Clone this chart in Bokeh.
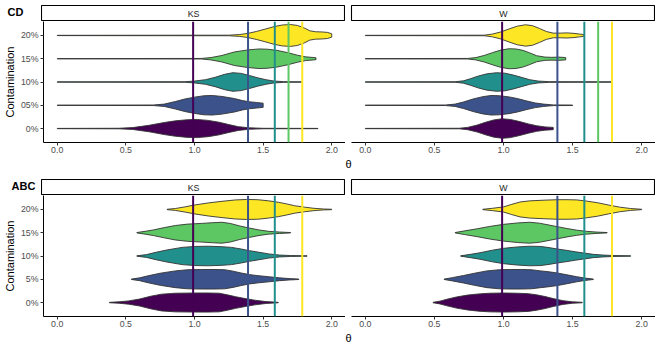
from bokeh.plotting import figure
from bokeh.layouts import column, row
from bokeh.models import Range1d, Span, FixedTicker, NumeralTickFormatter, Label
from bokeh.embed import file_html
from bokeh.resources import INLINE

FONT = "Liberation Sans"

# ---------------- data ----------------
row_labels = ["CD", "ABC"]
facet_labels = ["KS", "W"]
levels_cd = ["0%", "05%", "10%", "15%", "20%"]
levels_abc = ["0%", "5%", "10%", "15%", "20%"]
level_colors = ["#440154", "#3B528B", "#21908C", "#5DC863", "#FDE725"]
x_ticks = [0.0, 0.5, 1.0, 1.5, 2.0]
x_axis_title = "θ"
y_axis_title = "Contamination"

# true-value reference lines
cd_lines = [0.99, 1.39, 1.585, 1.685, 1.785]
cd_line_colors = ["#440154", "#3B528B", "#21908C", "#5DC863", "#FDE725"]
abc_lines = [0.99, 1.39, 1.585, 1.785]
abc_line_colors = ["#440154", "#3B528B", "#21908C", "#FDE725"]

# violin profiles: theta positions (x) and half-widths (w, in category units)
# ---- CD / KS
cd_ks_0_x = [0.0, 0.45, 0.55, 0.67, 0.78, 0.86, 0.95, 1.02, 1.1, 1.18, 1.25, 1.32, 1.4, 1.5, 1.9]
cd_ks_0_w = [0.006, 0.012, 0.04, 0.14, 0.26, 0.33, 0.38, 0.39, 0.35, 0.27, 0.17, 0.08, 0.03, 0.01, 0.006]
cd_ks_5_x = [0.0, 0.7, 0.78, 0.86, 0.93, 1.0, 1.07, 1.13, 1.2, 1.29, 1.35, 1.4, 1.45, 1.5]
cd_ks_5_w = [0.006, 0.012, 0.05, 0.16, 0.27, 0.35, 0.41, 0.42, 0.38, 0.29, 0.2, 0.15, 0.12, 0.09]
cd_ks_10_x = [0.0, 0.93, 1.0, 1.08, 1.15, 1.22, 1.28, 1.34, 1.4, 1.46, 1.52, 1.58, 1.65, 1.78]
cd_ks_10_w = [0.006, 0.012, 0.04, 0.1, 0.2, 0.33, 0.40, 0.37, 0.28, 0.18, 0.1, 0.04, 0.015, 0.008]
cd_ks_15_x = [0.0, 1.05, 1.12, 1.2, 1.29, 1.39, 1.47, 1.53, 1.6, 1.68, 1.75, 1.81, 1.87, 1.885]
cd_ks_15_w = [0.006, 0.012, 0.05, 0.14, 0.29, 0.38, 0.42, 0.41, 0.36, 0.26, 0.15, 0.08, 0.05, 0.04]
cd_ks_20_x = [0.0, 1.25, 1.33, 1.39, 1.45, 1.52, 1.58, 1.64, 1.7, 1.75, 1.8, 1.84, 1.88, 1.93, 1.97, 2.0]
cd_ks_20_w = [0.006, 0.012, 0.04, 0.09, 0.17, 0.28, 0.38, 0.45, 0.47, 0.43, 0.32, 0.2, 0.16, 0.15, 0.13, 0.07]
# ---- CD / W
cd_w_0_x = [0.0, 0.68, 0.74, 0.81, 0.87, 0.93, 0.99, 1.05, 1.11, 1.18, 1.24, 1.3, 1.36]
cd_w_0_w = [0.006, 0.012, 0.05, 0.15, 0.27, 0.37, 0.42, 0.39, 0.31, 0.2, 0.12, 0.07, 0.05]
cd_w_5_x = [0.0, 0.58, 0.65, 0.71, 0.78, 0.85, 0.91, 0.97, 1.04, 1.1, 1.17, 1.23, 1.29, 1.36, 1.5]
cd_w_5_w = [0.006, 0.012, 0.05, 0.14, 0.27, 0.37, 0.42, 0.41, 0.36, 0.29, 0.18, 0.1, 0.05, 0.015, 0.01]
cd_w_10_x = [0.0, 0.65, 0.71, 0.76, 0.82, 0.88, 0.95, 1.01, 1.07, 1.13, 1.19, 1.25, 1.33, 1.78]
cd_w_10_w = [0.006, 0.012, 0.05, 0.14, 0.26, 0.35, 0.40, 0.38, 0.3, 0.2, 0.1, 0.04, 0.015, 0.008]
cd_w_15_x = [0.0, 0.74, 0.8, 0.86, 0.92, 0.98, 1.04, 1.09, 1.14, 1.19, 1.24, 1.3, 1.35, 1.4, 1.45]
cd_w_15_w = [0.006, 0.012, 0.05, 0.14, 0.26, 0.37, 0.43, 0.42, 0.36, 0.25, 0.13, 0.07, 0.06, 0.07, 0.05]
cd_w_20_x = [0.0, 0.86, 0.92, 0.98, 1.04, 1.1, 1.16, 1.21, 1.26, 1.31, 1.36, 1.41, 1.46, 1.51, 1.55, 1.58]
cd_w_20_w = [0.006, 0.012, 0.06, 0.15, 0.28, 0.4, 0.46, 0.42, 0.3, 0.17, 0.1, 0.1, 0.11, 0.09, 0.06, 0.04]
# ---- ABC / KS
abc_ks_0_x = [0.38, 0.45, 0.52, 0.6, 0.68, 0.76, 0.86, 1.0, 1.1, 1.18, 1.24, 1.3, 1.37, 1.44, 1.52, 1.61]
abc_ks_0_w = [0.008, 0.03, 0.07, 0.15, 0.27, 0.36, 0.4, 0.41, 0.41, 0.4, 0.33, 0.25, 0.17, 0.1, 0.04, 0.01]
abc_ks_5_x = [0.54, 0.6, 0.67, 0.75, 0.86, 0.95, 1.05, 1.15, 1.22, 1.28, 1.34, 1.4, 1.47, 1.54, 1.62, 1.69, 1.76]
abc_ks_5_w = [0.008, 0.06, 0.16, 0.26, 0.36, 0.41, 0.42, 0.42, 0.41, 0.35, 0.27, 0.2, 0.15, 0.11, 0.06, 0.03, 0.01]
abc_ks_10_x = [0.58, 0.65, 0.72, 0.8, 0.91, 1.0, 1.1, 1.2, 1.27, 1.34, 1.4, 1.47, 1.54, 1.62, 1.7, 1.82]
abc_ks_10_w = [0.008, 0.06, 0.16, 0.26, 0.37, 0.41, 0.42, 0.4, 0.37, 0.3, 0.23, 0.16, 0.09, 0.04, 0.02, 0.008]
abc_ks_15_x = [0.58, 0.64, 0.7, 0.78, 0.86, 0.95, 1.05, 1.13, 1.2, 1.26, 1.33, 1.4, 1.47, 1.54, 1.62, 1.7]
abc_ks_15_w = [0.008, 0.06, 0.12, 0.22, 0.31, 0.37, 0.4, 0.43, 0.45, 0.4, 0.29, 0.2, 0.12, 0.06, 0.03, 0.008]
abc_ks_20_x = [0.8, 0.86, 0.93, 1.0, 1.1, 1.2, 1.3, 1.38, 1.46, 1.54, 1.61, 1.67, 1.73, 1.8, 1.87, 1.94, 2.0]
abc_ks_20_w = [0.008, 0.04, 0.11, 0.19, 0.28, 0.35, 0.41, 0.43, 0.42, 0.37, 0.31, 0.24, 0.16, 0.1, 0.05, 0.02, 0.008]
# ---- ABC / W
abc_w_0_x = [0.49, 0.54, 0.59, 0.66, 0.74, 0.82, 0.9, 1.0, 1.1, 1.18, 1.24, 1.3, 1.36, 1.43, 1.5, 1.57]
abc_w_0_w = [0.008, 0.06, 0.14, 0.24, 0.32, 0.37, 0.4, 0.41, 0.4, 0.38, 0.33, 0.26, 0.17, 0.08, 0.03, 0.01]
abc_w_5_x = [0.57, 0.63, 0.71, 0.79, 0.88, 0.97, 1.05, 1.13, 1.2, 1.27, 1.33, 1.39, 1.46, 1.53, 1.59, 1.65]
abc_w_5_w = [0.008, 0.07, 0.16, 0.26, 0.36, 0.41, 0.42, 0.42, 0.41, 0.36, 0.32, 0.27, 0.19, 0.11, 0.05, 0.01]
abc_w_10_x = [0.69, 0.76, 0.83, 0.92, 1.0, 1.1, 1.19, 1.27, 1.33, 1.39, 1.46, 1.52, 1.58, 1.65, 1.72, 1.8, 1.92]
abc_w_10_w = [0.008, 0.07, 0.14, 0.25, 0.33, 0.39, 0.42, 0.41, 0.36, 0.3, 0.24, 0.18, 0.13, 0.07, 0.04, 0.02, 0.008]
abc_w_15_x = [0.65, 0.72, 0.81, 0.9, 1.0, 1.1, 1.19, 1.26, 1.33, 1.39, 1.46, 1.53, 1.6, 1.67, 1.75]
abc_w_15_w = [0.008, 0.08, 0.17, 0.27, 0.36, 0.42, 0.45, 0.41, 0.33, 0.26, 0.18, 0.11, 0.06, 0.03, 0.008]
abc_w_20_x = [0.85, 0.92, 1.0, 1.06, 1.12, 1.19, 1.3, 1.39, 1.46, 1.53, 1.6, 1.68, 1.76, 1.84, 1.92, 2.0]
abc_w_20_w = [0.008, 0.05, 0.11, 0.22, 0.32, 0.37, 0.4, 0.42, 0.42, 0.41, 0.36, 0.29, 0.19, 0.1, 0.04, 0.008]

cd_ks = [(cd_ks_0_x, cd_ks_0_w), (cd_ks_5_x, cd_ks_5_w), (cd_ks_10_x, cd_ks_10_w),
         (cd_ks_15_x, cd_ks_15_w), (cd_ks_20_x, cd_ks_20_w)]
cd_w = [(cd_w_0_x, cd_w_0_w), (cd_w_5_x, cd_w_5_w), (cd_w_10_x, cd_w_10_w),
        (cd_w_15_x, cd_w_15_w), (cd_w_20_x, cd_w_20_w)]
abc_ks = [(abc_ks_0_x, abc_ks_0_w), (abc_ks_5_x, abc_ks_5_w), (abc_ks_10_x, abc_ks_10_w),
          (abc_ks_15_x, abc_ks_15_w), (abc_ks_20_x, abc_ks_20_w)]
abc_w = [(abc_w_0_x, abc_w_0_w), (abc_w_5_x, abc_w_5_w), (abc_w_10_x, abc_w_10_w),
         (abc_w_15_x, abc_w_15_w), (abc_w_20_x, abc_w_20_w)]

# ---------------- layout constants ----------------
LEFT = 41      # y-axis area
GAP = 6        # between facets
PW = 304       # panel frame width
PH = 121       # panel frame height
BOT = 16       # x-axis area
STRIP_H = 16
THETA_H = 14


def blank(width, height, **kw):
    f = figure(width=width, height=height, title=None, toolbar_location=None,
               output_backend="svg", x_range=Range1d(0, 1), y_range=Range1d(0, 1),
               x_axis_location=None, y_axis_location=None, **kw)
    f.grid.visible = False
    f.outline_line_color = None
    f.background_fill_color = "white"
    f.border_fill_color = "white"
    return f


def strip(text, left, top):
    s = blank(left + PW, STRIP_H + top, min_border_left=left, min_border_top=top,
              min_border_right=0, min_border_bottom=0)
    s.outline_line_color = "black"
    s.outline_line_width = 1.1
    s.add_layout(Label(x=0.5, y=0.5, text=text, text_align="center", text_baseline="middle",
                       text_font=FONT, text_font_size="8.8px", text_color="#1A1A1A"))
    return s


def row_label(text, xoff, top):
    f = blank(LEFT, STRIP_H + top, min_border=0)
    f.add_layout(Label(x=xoff, y=STRIP_H - 6.5, x_units="screen", y_units="screen", text=text,
                       text_align="left", text_baseline="alphabetic", text_font=FONT,
                       text_font_size="11px", text_font_style="bold", text_color="black"))
    return f


def panel(levels, profiles, lines, line_colors, with_y):
    left = LEFT if with_y else GAP
    p = figure(width=left + PW, height=PH + BOT, title=None, toolbar_location=None,
               output_backend="svg", x_range=Range1d(-0.1, 2.1), y_range=Range1d(0.4, 5.6),
               min_border_left=left, min_border_right=0, min_border_top=0,
               min_border_bottom=BOT, y_axis_location="left" if with_y else None)
    p.grid.visible = False
    p.outline_line_color = None
    p.background_fill_color = "white"
    p.border_fill_color = "white"

    for i, (xs, ws) in enumerate(profiles):
        yc = i + 1
        px = list(xs) + list(xs[::-1])
        py = [yc + w for w in ws] + [yc - w for w in ws[::-1]]
        p.patch(px, py, fill_color=level_colors[i], line_color="#333333", line_width=0.9)

    for loc, col in zip(lines, line_colors):
        p.add_layout(Span(location=loc, dimension="height", line_color=col, line_width=2))

    xa = p.xaxis[0]
    xa.ticker = FixedTicker(ticks=x_ticks)
    xa.formatter = NumeralTickFormatter(format="0.0")
    xa.major_tick_out = 3
    xa.major_tick_in = 0
    xa.minor_tick_line_color = None
    xa.axis_line_color = "black"
    xa.axis_line_width = 1
    xa.major_tick_line_color = "#333333"
    xa.major_label_standoff = 1
    xa.major_label_text_font = FONT
    xa.major_label_text_font_size = "8.8px"
    xa.major_label_text_color = "#4D4D4D"

    if with_y:
        ya = p.yaxis[0]
        ya.ticker = FixedTicker(ticks=[i + 1 for i in range(len(levels))])
        ya.major_label_overrides = {i + 1: lvl for i, lvl in enumerate(levels)}
        ya.major_tick_out = 3
        ya.major_tick_in = 0
        ya.minor_tick_line_color = None
        ya.axis_line_color = "black"
        ya.axis_line_width = 1
        ya.major_tick_line_color = "#333333"
        ya.major_label_standoff = 2
        ya.major_label_text_font = FONT
        ya.major_label_text_font_size = "8.8px"
        ya.major_label_text_color = "#4D4D4D"
        ya.axis_label = y_axis_title
        ya.axis_label_text_font = FONT
        ya.axis_label_text_font_size = "11px"
        ya.axis_label_text_font_style = "normal"
        ya.axis_label_text_color = "black"
        ya.axis_label_standoff = 2
    return p


def theta_fig():
    f = blank(LEFT + PW + GAP + PW, THETA_H, min_border=0)
    f.add_layout(Label(x=LEFT + (PW * 2 + GAP) / 2, y=THETA_H - 5, x_units="screen",
                       y_units="screen", text=x_axis_title, text_align="center",
                       text_baseline="middle", text_font=FONT, text_font_size="11px",
                       text_color="black"))
    return f


def block(name, xoff, top, levels, ks, w, lines, colors):
    head = row(row_label(name, xoff, top), strip(facet_labels[0], 0, top),
               strip(facet_labels[1], GAP, top))
    mid = row(panel(levels, ks, lines, colors, True), panel(levels, w, lines, colors, False))
    return column(head, mid, theta_fig())


layout = column(
    block(row_labels[0], 7, 5, levels_cd, cd_ks, cd_w, cd_lines, cd_line_colors),
    block(row_labels[1], 11, 7, levels_abc, abc_ks, abc_w, abc_lines, abc_line_colors),
)

open("out.html", "w").write(file_html(layout, INLINE))
